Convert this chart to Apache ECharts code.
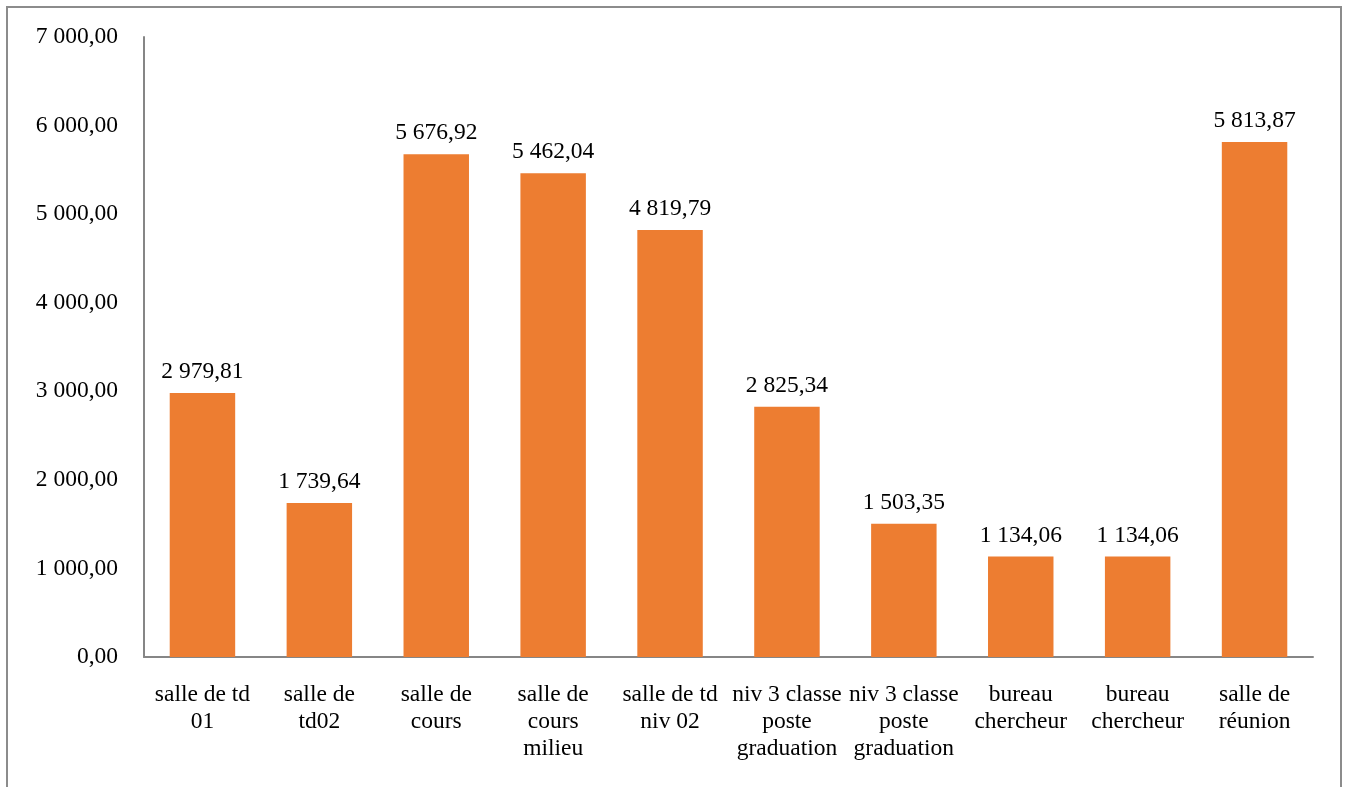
<!DOCTYPE html>
<html><head><meta charset="utf-8">
<script src="https://cdn.jsdelivr.net/npm/echarts@6/dist/echarts.min.js"></script>
<style>html,body{margin:0;padding:0;background:#fff}#c{width:1347px;height:787px}</style>
</head><body><div id="c"></div>
<script>
const categories = ["salle de td\n01","salle de\ntd02","salle de\ncours","salle de\ncours\nmilieu","salle de td\nniv 02","niv 3 classe\nposte\ngraduation","niv 3 classe\nposte\ngraduation","bureau\nchercheur","bureau\nchercheur","salle de\nréunion"];
const values = [2979.81,1739.64,5676.92,5462.04,4819.79,2825.34,1503.35,1134.06,1134.06,5813.87];
const yTicks = [0,1000,2000,3000,4000,5000,6000,7000];

function fmt(v){
  const s = v.toFixed(2).split('.');
  const int = s[0].replace(/\B(?=(\d{3})+(?!\d))/g,' ');
  return int + ',' + s[1];
}
const font = '"Liberation Serif","Times New Roman",serif';
const chart = echarts.init(document.getElementById('c'));
chart.setOption({
  animation:false,
  graphic:[{type:'rect',shape:{x:7,y:7,width:1334,height:800},style:{fill:'none',stroke:'#8c8c8c',lineWidth:2}}],
  grid:{left:144,right:34,top:37,bottom:130,containLabel:false},
  xAxis:{type:'category',data:categories,
    axisLine:{lineStyle:{color:'#868686',width:2}},axisTick:{show:false},
    axisLabel:{interval:0,color:'#000',fontFamily:font,fontSize:23.5,lineHeight:27,margin:24}},
  yAxis:{type:'value',min:yTicks[0],max:yTicks[yTicks.length-1],interval:1000,
    axisLine:{show:true,lineStyle:{color:'#868686',width:2}},axisTick:{show:false},splitLine:{show:false},
    axisLabel:{color:'#000',fontFamily:font,fontSize:23.5,margin:26,formatter:v=>fmt(v)}},
  series:[{type:'bar',data:values,barWidth:'56%',itemStyle:{color:'#ED7D31'},
    label:{show:true,position:'top',distance:9,color:'#000',fontFamily:font,fontSize:23.5,formatter:p=>fmt(p.value)}}]
});
</script></body></html>
